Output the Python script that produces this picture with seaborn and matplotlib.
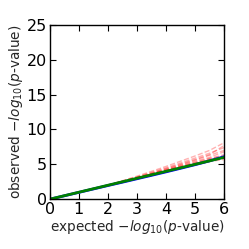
import pandas as pd
import seaborn as sns
import matplotlib.pyplot as plt

# expected -log10(p) grid
expected = [0, 0.5, 1, 1.5, 2, 2.5, 3, 3.5, 4, 4.5, 5, 5.5, 6]
# observed -log10(p)
observed = [0, 0.49, 0.98, 1.47, 1.96, 2.44, 2.93, 3.42, 3.92, 4.43, 4.95, 5.5, 6.1]
# permutation runs
perm1 = [0, 0.5, 1, 1.5, 2, 2.5, 3.05, 3.6, 4.15, 4.7, 5.2, 5.8, 6.4]
perm2 = [0, 0.5, 1, 1.5, 2, 2.55, 3.1, 3.7, 4.3, 4.95, 5.6, 6.3, 7.0]
perm3 = [0, 0.5, 1, 1.5, 2, 2.5, 3.0, 3.55, 4.05, 4.55, 5.05, 5.5, 5.9]
perm4 = [0, 0.5, 1, 1.5, 2, 2.6, 3.2, 3.85, 4.5, 5.2, 5.9, 6.6, 7.4]
perm5 = [0, 0.5, 1, 1.5, 2, 2.5, 3.0, 3.5, 4.0, 4.5, 4.95, 5.4, 5.7]
perm6 = [0, 0.5, 1, 1.5, 2, 2.55, 3.1, 3.65, 4.25, 4.85, 5.45, 6.0, 6.8]
perm7 = [0, 0.5, 1, 1.5, 2, 2.65, 3.3, 4.0, 4.7, 5.45, 6.2, 7.0, 8.1]
perm8 = [0, 0.5, 1, 1.5, 2, 2.5, 3.05, 3.6, 4.15, 4.75, 5.3, 5.85, 6.2]
perm9 = [0, 0.5, 1, 1.5, 2, 2.55, 3.15, 3.75, 4.4, 5.05, 5.7, 6.4, 7.7]
perm10 = [0, 0.5, 1, 1.5, 2, 2.5, 3.0, 3.55, 4.1, 4.65, 5.15, 5.65, 6.0]
perms = [perm1, perm2, perm3, perm4, perm5, perm6, perm7, perm8, perm9, perm10]

rows = []
for i, p in enumerate(perms):
    for x, y in zip(expected, p):
        rows.append({'perm': i, 'expected': x, 'observed': y})
df = pd.DataFrame(rows)

sns.set_theme(style='ticks', rc={
    'xtick.direction': 'in', 'ytick.direction': 'in',
    'xtick.top': True, 'ytick.right': True,
    'axes.edgecolor': 'black', 'axes.linewidth': 1.0,
    'xtick.color': 'black', 'ytick.color': 'black',
    'font.size': 11, 'axes.labelsize': 9.8,
    'xtick.labelsize': 11.5, 'ytick.labelsize': 11.5,
})
plt.rcParams['font.family'] = ['DejaVu Sans']

fig = plt.figure(figsize=(2.49, 2.49), dpi=100)
ax = fig.add_axes([0.20, 0.20, 0.70, 0.70])

sns.lineplot(data=df, x='expected', y='observed', units='perm', estimator=None,
             color='red', alpha=0.3, linewidth=1, linestyle='--', ax=ax)
sns.lineplot(x=expected, y=observed, color='blue', linewidth=2, ax=ax)
sns.lineplot(x=expected, y=expected, color='green', linewidth=2, ax=ax)

ax.set_xlim(0, 6)
ax.set_ylim(0, 25)
ax.set_xticks([0, 1, 2, 3, 4, 5, 6])
ax.set_yticks([0, 5, 10, 15, 20, 25])
ax.tick_params(length=4, width=0.8, pad=2)
ax.set_xlabel('expected $-log_{10}(p$-value)', labelpad=1)
ax.set_ylabel('observed $-log_{10}(p$-value)', labelpad=1)

fig.savefig('out.png', dpi=100)
